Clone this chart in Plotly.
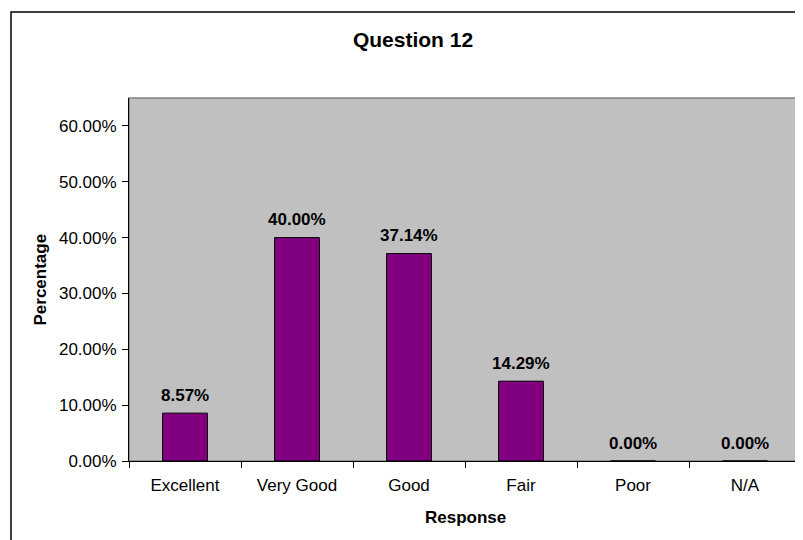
import plotly.graph_objects as go

categories = ["Excellent", "Very Good", "Good", "Fair", "Poor", "N/A"]
values = [0.0857, 0.40, 0.3714, 0.1429, 0.0, 0.0]
value_labels = ["8.57%", "40.00%", "37.14%", "14.29%", "0.00%", "0.00%"]
y_ticks = [0, 0.1, 0.2, 0.3, 0.4, 0.5, 0.6]
y_tick_labels = ["0.00%", "10.00%", "20.00%", "30.00%", "40.00%", "50.00%", "60.00%"]

FONT = "Liberation Sans, Arial, sans-serif"

# page has an 8px body margin; the figure is laid out in its own coordinates
W, H = 795, 532
L, R, T, B = 121, 2, 90, 79
PW, PH = W - L - R, H - T - B

fig = go.Figure()
fig.add_trace(go.Bar(
    x=categories, y=values, width=0.4,
    marker=dict(color="#800080", line=dict(color="#000000", width=1)),
    hoverinfo="skip",
))

annotations = []
for c, v, t in zip(categories, values, value_labels):
    annotations.append(dict(
        x=c, y=v, xref="x", yref="y", text="<b>%s</b>" % t, showarrow=False,
        yanchor="middle", yshift=18, font=dict(family=FONT, size=17, color="#000"),
    ))
annotations.append(dict(
    x=0.5, y=-56 / PH, xref="paper", yref="paper", text="<b>Response</b>",
    showarrow=False, yanchor="middle", xanchor="center",
    font=dict(family=FONT, size=17, color="#000"),
))
annotations.append(dict(
    x=-89 / PW, y=0.5, xref="paper", yref="paper", text="<b>Percentage</b>",
    showarrow=False, yanchor="middle", xanchor="center", textangle=-90,
    font=dict(family=FONT, size=17, color="#000"),
))

fig.update_layout(
    width=W, height=H,
    margin=dict(l=L, r=R, t=T, b=B, pad=0),
    paper_bgcolor="#FFFFFF", plot_bgcolor="#C0C0C0",
    showlegend=False,
    title=dict(text="<b>Question 12</b>", x=405 / W, xanchor="center",
               y=1 - 32 / H, yanchor="middle", yref="container",
               font=dict(family=FONT, size=21, color="#000")),
    annotations=annotations,
    shapes=[
        dict(type="rect", xref="paper", yref="paper", x0=0, x1=1, y0=0, y1=1,
             line=dict(color="#808080", width=1.5), layer="below"),
        dict(type="rect", xref="paper", yref="paper",
             x0=(3 - L) / PW, x1=(W + 20 - L) / PW,
             y0=-(B + 20) / PH, y1=(T - 4 + PH) / PH,
             line=dict(color="#000000", width=1.5), layer="above"),
    ],
    xaxis=dict(
        type="category", tickson="boundaries", ticks="outside", ticklen=6,
        tickcolor="#000", showline=True, linecolor="#000", linewidth=1,
        showgrid=False, tickfont=dict(family=FONT, size=17, color="#000"),
        ticklabelstandoff=9,
        range=[-0.5, 5.5], fixedrange=True,
    ),
    yaxis=dict(
        range=[0, 0.65], tickvals=y_ticks, ticktext=y_tick_labels,
        ticks="outside", ticklen=6, tickcolor="#000", showline=True,
        linecolor="#000", linewidth=1, showgrid=False, zeroline=False,
        ticklabelstandoff=2,
        tickfont=dict(family=FONT, size=17, color="#000"), fixedrange=True,
    ),
)

fig.write_html("out.html")
